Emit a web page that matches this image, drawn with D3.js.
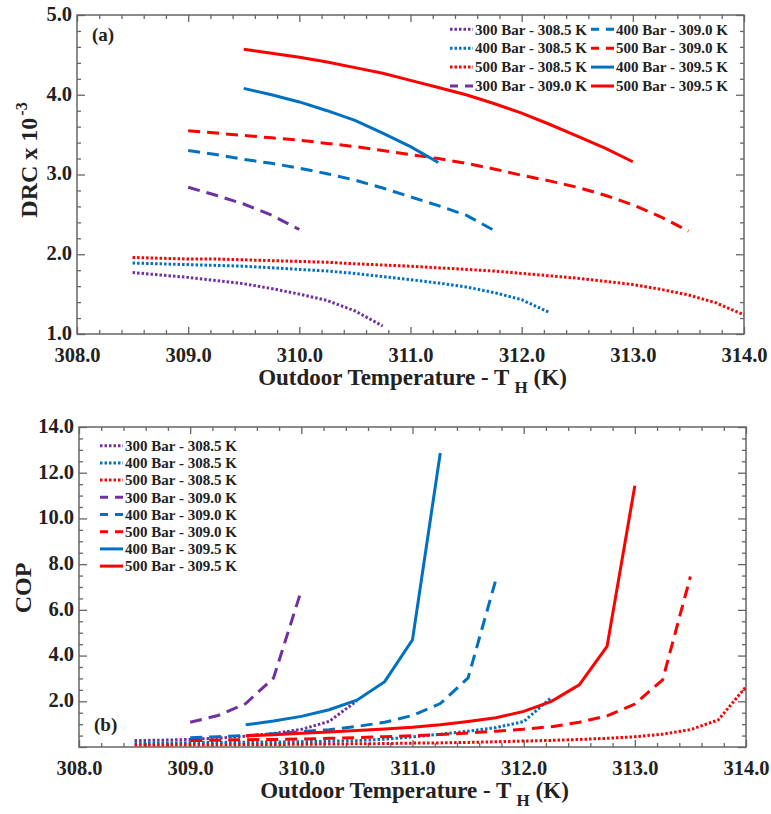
<!DOCTYPE html>
<html>
<head>
<meta charset="utf-8">
<script src="https://cdn.jsdelivr.net/npm/d3@7"></script>
<style>
  body { margin: 0; background: #fff; }
  text { font-family: "Liberation Serif", "Times New Roman", serif; font-weight: bold; fill: #222; }
  .tick line { stroke: #666; stroke-width: 1.3; }
  .tick text { font-size: 20.5px; }
</style>
</head>
<body>
<script>
// series labels, in legend order
const seriesNames = [
  "300 Bar - 308.5 K", "400 Bar - 308.5 K", "500 Bar - 308.5 K", "300 Bar - 309.0 K",
  "400 Bar - 309.0 K", "500 Bar - 309.0 K", "400 Bar - 309.5 K", "500 Bar - 309.5 K"
];
const seriesColors = ["#7030a0", "#0070c0", "#ff0000", "#7030a0", "#0070c0", "#ff0000", "#0070c0", "#ff0000"];
const seriesStyles = ["dot", "dot", "dot", "dash", "dash", "dash", "solid", "solid"];

// outdoor temperatures (K)
const t3085_31075 = [308.5, 308.75, 309, 309.25, 309.5, 309.75, 310, 310.25, 310.5, 310.75];
const t3085_3105 = [308.5, 308.75, 309, 309.25, 309.5, 309.75, 310, 310.25, 310.5];
const t3085_31225 = [308.5, 308.75, 309, 309.25, 309.5, 309.75, 310, 310.25, 310.5, 310.75, 311, 311.25, 311.5, 311.75, 312, 312.25];
const t3085_314 = [308.5, 308.75, 309, 309.25, 309.5, 309.75, 310, 310.25, 310.5, 310.75, 311, 311.25, 311.5, 311.75, 312, 312.25, 312.5, 312.75, 313, 313.25, 313.5, 313.75, 314];
const t309_310 = [309, 309.25, 309.5, 309.75, 310];
const t309_31175 = [309, 309.25, 309.5, 309.75, 310, 310.25, 310.5, 310.75, 311, 311.25, 311.5, 311.75];
const t309_3135 = [309, 309.25, 309.5, 309.75, 310, 310.25, 310.5, 310.75, 311, 311.25, 311.5, 311.75, 312, 312.25, 312.5, 312.75, 313, 313.25, 313.5];
const t3095_31125 = [309.5, 309.75, 310, 310.25, 310.5, 310.75, 311, 311.25];
const t3095_313 = [309.5, 309.75, 310, 310.25, 310.5, 310.75, 311, 311.25, 311.5, 311.75, 312, 312.25, 312.5, 312.75, 313];

// DRC x 10^-3
const drc300_3085 = [1.77, 1.74, 1.71, 1.67, 1.63, 1.57, 1.50, 1.42, 1.29, 1.10];
const drc400_3085 = [1.89, 1.88, 1.87, 1.86, 1.85, 1.83, 1.81, 1.79, 1.76, 1.72, 1.68, 1.64, 1.59, 1.52, 1.43, 1.27];
const drc500_3085 = [1.96, 1.95, 1.94, 1.94, 1.93, 1.92, 1.91, 1.90, 1.88, 1.865, 1.85, 1.83, 1.81, 1.79, 1.76, 1.73, 1.70, 1.66, 1.62, 1.56, 1.49, 1.39, 1.24];
const drc300_309 = [2.84, 2.74, 2.63, 2.49, 2.31];
const drc400_309 = [3.30, 3.25, 3.19, 3.14, 3.08, 3.01, 2.93, 2.83, 2.72, 2.61, 2.49, 2.30];
const drc500_309 = [3.55, 3.52, 3.49, 3.46, 3.43, 3.39, 3.35, 3.30, 3.25, 3.20, 3.14, 3.07, 2.99, 2.92, 2.84, 2.74, 2.62, 2.47, 2.29];
const drc400_3095 = [4.08, 4.00, 3.91, 3.80, 3.68, 3.52, 3.35, 3.15];
const drc500_3095 = [4.57, 4.52, 4.47, 4.41, 4.34, 4.27, 4.18, 4.09, 4.00, 3.89, 3.77, 3.63, 3.48, 3.33, 3.16];

// COP
const cop300_3085 = [0.28, 0.30, 0.33, 0.39, 0.47, 0.59, 0.77, 1.12, 2.02];
const cop400_3085 = [0.16, 0.17, 0.19, 0.20, 0.21, 0.22, 0.23, 0.25, 0.28, 0.34, 0.44, 0.56, 0.69, 0.85, 1.11, 2.17];
const cop500_3085 = [0.09, 0.09, 0.10, 0.10, 0.11, 0.11, 0.12, 0.13, 0.14, 0.15, 0.17, 0.18, 0.20, 0.23, 0.26, 0.29, 0.33, 0.38, 0.45, 0.56, 0.76, 1.18, 2.64];
const cop300_309 = [1.08, 1.38, 1.90, 3.02, 6.85];
const cop400_309 = [0.41, 0.45, 0.50, 0.58, 0.67, 0.76, 0.90, 1.08, 1.38, 1.90, 3.02, 7.32];
const cop500_309 = [0.28, 0.30, 0.32, 0.33, 0.35, 0.38, 0.41, 0.45, 0.49, 0.55, 0.61, 0.69, 0.78, 0.89, 1.08, 1.36, 1.88, 2.94, 7.46];
const cop400_3095 = [0.97, 1.14, 1.34, 1.63, 2.05, 2.86, 4.69, 12.86];
const cop500_3095 = [0.49, 0.54, 0.60, 0.66, 0.72, 0.79, 0.86, 0.97, 1.12, 1.28, 1.56, 2.00, 2.72, 4.40, 11.43];

// ticks
const xMajor = [308, 309, 310, 311, 312, 313, 314];
const xMinor = [308.2, 308.4, 308.6, 308.8, 309.2, 309.4, 309.6, 309.8, 310.2, 310.4, 310.6, 310.8, 311.2, 311.4, 311.6, 311.8, 312.2, 312.4, 312.6, 312.8, 313.2, 313.4, 313.6, 313.8];
const drcMajor = [1, 2, 3, 4, 5];
const drcMinor = [1.2, 1.4, 1.6, 1.8, 2.2, 2.4, 2.6, 2.8, 3.2, 3.4, 3.6, 3.8, 4.2, 4.4, 4.6, 4.8];
const copMajor = [0, 2, 4, 6, 8, 10, 12, 14];
const copMinor = [0.5, 1, 1.5, 2.5, 3, 3.5, 4.5, 5, 5.5, 6.5, 7, 7.5, 8.5, 9, 9.5, 10.5, 11, 11.5, 12.5, 13, 13.5];

const drcSeries = [
  [t3085_31075, drc300_3085], [t3085_31225, drc400_3085], [t3085_314, drc500_3085], [t309_310, drc300_309],
  [t309_31175, drc400_309], [t309_3135, drc500_309], [t3095_31125, drc400_3095], [t3095_313, drc500_3095]
];
const copSeries = [
  [t3085_3105, cop300_3085], [t3085_31225, cop400_3085], [t3085_314, cop500_3085], [t309_310, cop300_309],
  [t309_31175, cop400_309], [t309_3135, cop500_309], [t3095_31125, cop400_3095], [t3095_313, cop500_3095]
];

const dashFor = { dot: "2.5,2", dash: "12,7", solid: null };
const legendDash = { dot: "2.5,2", dash: "8,7", solid: null };

var svg = d3.select("body").append("svg").attr("width", 771).attr("height", 814);

function drawPanel(opt) {
  var x = d3.scaleLinear().domain([308, 314]).range([opt.left, opt.right]);
  var y = d3.scaleLinear().domain(opt.yDomain).range([opt.bottom, opt.top]);
  var g = svg.append("g");
  var fmt = d3.format(".1f");

  // minor ticks
  g.append("g").attr("transform", "translate(0," + opt.bottom + ")")
    .call(d3.axisBottom(x).tickValues(xMinor).tickSize(-4).tickFormat(""));
  g.append("g").attr("transform", "translate(0," + opt.top + ")")
    .call(d3.axisTop(x).tickValues(xMinor).tickSize(-4).tickFormat(""));
  g.append("g").attr("transform", "translate(" + opt.left + ",0)")
    .call(d3.axisLeft(y).tickValues(opt.yMinor).tickSize(-4).tickFormat(""));
  g.append("g").attr("transform", "translate(" + opt.right + ",0)")
    .call(d3.axisRight(y).tickValues(opt.yMinor).tickSize(-4).tickFormat(""));

  // major ticks
  g.append("g").attr("transform", "translate(0," + opt.bottom + ")")
    .call(d3.axisBottom(x).tickValues(xMajor).tickSize(-7).tickPadding(13).tickFormat(fmt));
  g.append("g").attr("transform", "translate(0," + opt.top + ")")
    .call(d3.axisTop(x).tickValues(xMajor).tickSize(-7).tickFormat(""));
  var yAx = g.append("g").attr("transform", "translate(" + opt.left + ",0)")
    .call(d3.axisLeft(y).tickValues(opt.yMajor).tickSize(-8).tickPadding(5)
      .tickFormat(function (d) { return opt.yLabels.indexOf(d) >= 0 ? fmt(d) : ""; }));
  yAx.selectAll(".tick text").attr("dy", "0.26em");
  g.append("g").attr("transform", "translate(" + opt.right + ",0)")
    .call(d3.axisRight(y).tickValues(opt.yMajor).tickSize(-8).tickFormat(""));

  g.selectAll(".domain").remove();
  g.selectAll(".tick text").attr("fill", "#222");

  // frame
  g.append("rect")
    .attr("x", opt.left).attr("y", opt.top)
    .attr("width", opt.right - opt.left).attr("height", opt.bottom - opt.top)
    .attr("fill", "none").attr("stroke", "#666").attr("stroke-width", 1.5);

  // lines
  var line = d3.line()
    .x(function (d) { return x(d[0]); })
    .y(function (d) { return y(d[1]); });

  opt.series.forEach(function (s, i) {
    var pts = s[0].map(function (t, j) { return [t, s[1][j]]; });
    g.append("path")
      .datum(pts)
      .attr("d", line)
      .attr("fill", "none")
      .attr("stroke", seriesColors[i])
      .attr("stroke-width", 3)
      .attr("stroke-dasharray", dashFor[seriesStyles[i]]);
  });

  // x title with subscript H
  var xt = g.append("text")
    .attr("x", (opt.left + opt.right) / 2 + 2)
    .attr("y", opt.bottom + 51)
    .attr("text-anchor", "middle")
    .style("font-size", "23px");
  xt.append("tspan").text("Outdoor Temperature - T ");
  xt.append("tspan").attr("dy", 8).style("font-size", "17px").text("H");
  xt.append("tspan").attr("dy", -8).text(" (K)");

  // panel letter
  g.append("text")
    .attr("x", opt.letterX).attr("y", opt.letterY)
    .style("font-size", "19px")
    .text(opt.letter);

  return g;
}

function legendEntry(g, i, x, y) {
  g.append("line")
    .attr("x1", x).attr("x2", x + 23)
    .attr("y1", y).attr("y2", y)
    .attr("stroke", seriesColors[i])
    .attr("stroke-width", 3)
    .attr("stroke-dasharray", legendDash[seriesStyles[i]]);
  g.append("text")
    .attr("x", x + 25).attr("y", y)
    .attr("dy", "0.35em")
    .style("font-size", "15px")
    .text(seriesNames[i]);
}

// (a) DRC
var gTop = drawPanel({
  left: 77, right: 744, top: 15, bottom: 334,
  yDomain: [1, 5], yMajor: drcMajor, yMinor: drcMinor, yLabels: drcMajor,
  series: drcSeries, letter: "(a)", letterX: 92, letterY: 41
});
var ytA = gTop.append("text")
  .attr("transform", "translate(37,160) rotate(-90)")
  .attr("text-anchor", "middle")
  .style("font-size", "24px");
ytA.append("tspan").text("DRC x 10");
ytA.append("tspan").attr("dx", 2).attr("dy", -10).style("font-size", "16px").text("-3");

for (var i = 0; i < 8; i++) {
  var col = i < 4 ? 0 : 1;
  legendEntry(gTop, i, col === 0 ? 450 : 591, 29.3 + (i % 4) * 18.9);
}

// (b) COP
var gBot = drawPanel({
  left: 79, right: 746, top: 427, bottom: 747,
  yDomain: [0, 14], yMajor: copMajor, yMinor: copMinor, yLabels: [2, 4, 6, 8, 10, 12, 14],
  series: copSeries, letter: "(b)", letterX: 94, letterY: 731
});
gBot.append("text")
  .attr("transform", "translate(31,588) rotate(-90)")
  .attr("text-anchor", "middle")
  .style("font-size", "24px")
  .text("COP");

for (var k = 0; k < 8; k++) {
  legendEntry(gBot, k, 100, 445.7 + k * 17.2);
}
</script>
</body>
</html>
